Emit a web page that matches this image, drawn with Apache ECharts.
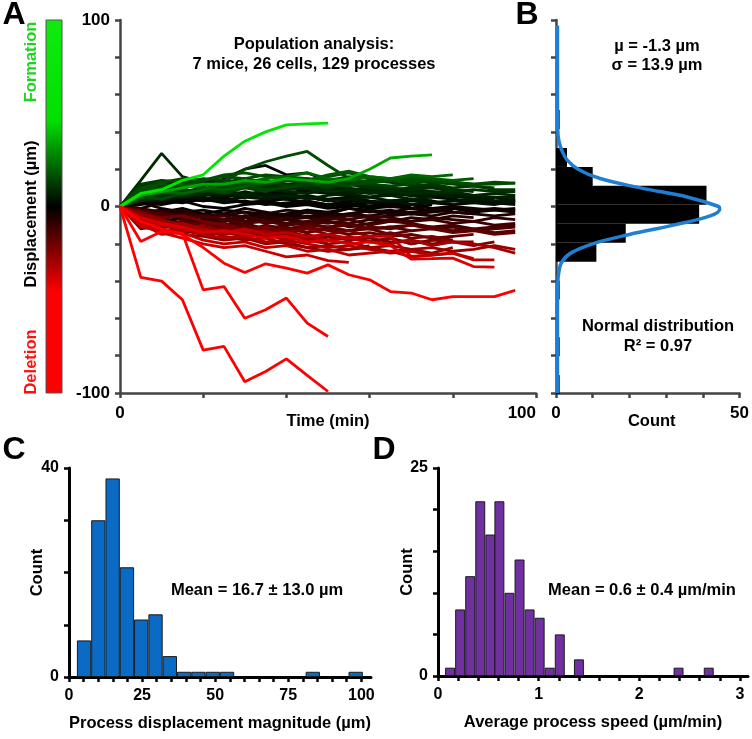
<!DOCTYPE html>
<html><head><meta charset="utf-8">
<script src="https://cdn.jsdelivr.net/npm/echarts@6/dist/echarts.min.js"></script>
<style>html,body{margin:0;padding:0;background:#fff}#c{width:752px;height:739px}</style>
</head><body><div id="c"></div>
<script>
// ---------- Panel A: process displacement traces (µm), one value per 5-min frame ----------
const timePoints = [0,5,10,15,20,25,30,35,40,45,50,55,60,65,70,75,80,85,90,95];
const traces = [
  [0,7,9,14,17,27,35,40,43.8,44.3,44.7],
  [0,6,8,10,12,12,14,13,15,14,13,15,20,26,27,27.7],
  [0,8,10,12,11,13,20,24,27,29.5,22,15,13,14,15,14,13,12,13,12.5],
  [0,14,28.5,16,13,12,10,11,9,10,8,9,7,8,7,8,7],
  [0,10,13,15,14,16,15,17,16,15,14,16,15,14,13,14,13,12,12,12.5],
  [0,5,9,11,12,10,13,12,14,15,13,12,14,13,11,12,10,11,9,9],
  [0,12,14,13,15,14,12,13,11,12,14,13,12,15,14,13,12,11,10],
  [0,6,7,9,8,10,11,9,10,12,11,13,12,11,12,14,13,11],
  [0,9,12,11,14,17,18,16,15,14,16,18,15,14,13],
  [0,4,6,5,7,8,6,9,8,7,9,10,8,9,8,7,8,6,7,6],
  [0,8,11,10,12,11,13,14,12,13,11,12,10,9,10,11,9,8],
  [0,3,5,7,6,8,7,5,6,4,6,7,5,6,4,5],
  [0,6,10,12,10,9,11,13,15,14,17,19,16,15,16,15,14,15],
  [0,11,13,12,14,13,15,13,12,10,11,9,10,8,9,8,7,6,5,5],
  [0,2,4,6,5,3,5,6,4,5,3,4,2,3,4,3],
  [0,5,4,7,9,11,10,12,14,13,12,11,13,14,12],
  [0,7,9,8,6,7,5,4,6,5,3,4,5,3,4,2,3,4,3,4],
  [0,4,7,9,8,10,12,11,9,10,8,7,9,8,6,7,5],
  [0,10,12,14,12,11,13,11,10,9,10,8,7,8,6,7,5,6,4],
  [0,3,6,8,10,9,11,10,12,11,10,12,11,10,9,10,8,9,8,8],
  [0,6,8,7,9,12,13,15,16,18,15,14,16,15,17,16,17],
  [0,2,3,5,4,6,5,7,6,8,7,6,5,7,6,5,6,4,5,3],
  [0,4,8,6,9,7,10,8,11],
  [0,6,4,7,9,8,12],
  [0,1,3,2,4,6,5,8,7,9,10,8,9,7,6,5,4,3,2,1],
  [0,-2,-3,-1,-4,-2,-3,-5,-4,-2,-3,-1,-2,-4,-3,-2,-1,-3,-2,-1],
  [0,4,5,6,8,15,20,22,17,18,14,12,10,8,9,6,7,5,3,2],
  [0,-5,-8,-6,-9,-7,-5,-4,-6,-3,-5,-4,-2,-3,-1,-2,0,-1,-2,-3],
  [0,2,1,3,0,-1,1,2,0,1,-1,0,2,1,0],
  [0,-3,-2,-4,-6,-5,-3,-4,-2,-3,-5,-4,-6,-5,-4,-5,-3,-4],
  [0,6,8,5,3,4,2,3,1,2,0,1,-1,0,-1,1],
  [0,-1,2,4,3,5,2,3,4,2,1,3,2,0,1,-1,0,-2,-1,-2],
  [0,3,4,7,9,8,6,7,5,6,4,5,3,2,4,3,1,2],
  [0,-4,-6,-9,-7,-10,-8,-6,-7,-5,-6,-4,-5,-3,-4,-2,-3,-4,-5,-4],
  [0,5,3,6,4,2,3,1,2,3,1,2,0,1,3,2,1],
  [0,-2,-5,-3,-6,-8,-5,-7,-4,-6,-3,-5,-2,-4,-3],
  [0,8,6,9,7,5,8,6,4,5,3,4,2,3,1,2,3,2,1,3],
  [0,-6,-4,-7,-5,-8,-6,-3,-5,-2,-4,-1,-3,-2,-4,-3,-2],
  [0,2,-1,-3,-2,-4,-1,-3],
  [0,-3,-6,-4,-8,-10,-7],
  [0,-8,-10,-9,-12,-11,-13,-10,-12,-14,-11,-13,-12,-15,-13,-12,-14,-13,-15,-14],
  [0,-5,-7,-10,-8,-11,-9,-12,-10,-8,-9,-7,-10,-8,-9,-11,-10,-12,-11,-10],
  [0,-3,-6,-5,-8,-10,-13,-11,-14,-12,-15,-13,-16,-14,-17,-16,-18],
  [0,-10,-12,-14,-11,-13,-16,-14,-17,-15,-18,-16,-19,-17,-20,-18,-19,-19],
  [0,-6,-4,-7,-9,-8,-6,-9,-7,-10,-8,-11,-9,-7,-8,-6,-7,-8,-6,-7],
  [0,-4,-8,-12,-10,-9,-12,-14,-13,-11,-13,-15,-14,-16,-15,-17,-16,-15],
  [0,-12,-10,-13,-15,-14,-12,-15,-13,-16,-18,-17,-19,-17,-20,-18,-16],
  [0,-3,-5,-4,-6,-5,-8,-7,-9,-8,-6,-7,-5,-6,-8,-7,-9,-8,-10,-9],
  [0,-7,-9,-8,-10,-12,-11,-13,-12,-10,-11,-9,-12,-11,-13],
  [0,-2,-4,-6,-5,-7,-9,-8,-10,-9,-11,-10,-12,-11,-10,-12,-11,-13,-12,-11],
  [0,-9,-11,-10,-13,-12,-14,-16,-15,-17,-16,-18,-17,-19,-18,-20,-19,-21,-19],
  [0,-5,-3,-6,-8,-7,-5,-8,-6,-9,-7,-5,-6,-8],
  [0,-1,-3,-2,-5,-4,-6,-5,-7,-6,-8,-9,-7,-8,-6,-7,-5,-6],
  [0,-6,-9,-11,-9,-12,-10,-13,-11,-14,-12,-13,-11,-12,-10,-11,-13,-12,-14,-13],
  [0,-5,-9,-12,-10,-14,-16,-15,-18,-17,-20],
  [0,-8,-10,-12,-13,-14,-12,-15,-14,-16,-15,-17,-16,-16,-26.8,-26,-25,-28.6,-28.6],
  [0,-6,-9,-11,-14,-13,-15,-17,-16,-19,-18,-20,-19,-21,-28.2,-28,-27.7,-32.2,-32.5],
  [0,-7,-10,-9,-12,-14,-13,-15,-17,-16,-18,-17,-19,-20,-18,-21,-19,-20,-22,-25],
  [0,-10,-14,-17,-20,-22,-21,-24,-27,-26,-29,-30],
  [0,-9,-15,-14,-18,-20,-19,-22,-21,-24,-23,-26,-25,-24,-27,-26,-25,-28],
  [0,-4,-7,-10,-12,-16,-18,-17,-20,-22,-21,-23,-22,-24,-23,-25,-22],
  [0,-11,-13,-12,-15,-17,-16,-19,-18,-20,-22,-21,-23,-25,-24,-26],
  [0,-6,-8,-13,-12,-15,-14,-13,-16,-18,-20,-19,-22,-21,-23,-22,-24,-23,-21,-23],
  [0,-5,-12,-15,-16,-18,-17,-20,-19,-22,-24,-23,-21],
  [0,-8,-12,-15,-22,-30.4,-35.4,-30.7,-33,-35.7,-31.3,-36.6,-39.3,-45.6,-46.4,-50,-48.3,-48.3,-48.3,-45],
  [0,-18.8,-13.4,-14.3,-44.7,-42.9,-59.9,-55.4,-49.1,-62.5,-69.7],
  [0,-38,-40,-50,-77,-75,-94,-88.5,-81.7,-90.5,-99.2]
];

// ---------- Panel B: histogram of final displacement (µm) + normal fit ----------
const histBCenters = [-95.5, -75.2, -44.8, -24.5, -14.3, -4.2, 6.0, 16.1, 26.3, 46.6];
const histBCounts  = [1, 1, 1, 11, 19, 39, 41, 10, 3, 1];
const binWidthB = 10.15;
const fitDisp  = [-100, -60, -45, -40, -35, -30, -25, -20, -15, -10, -5, -1.3, 0, 5, 10, 15, 20, 25, 30, 35, 40, 60, 97];
const fitCount = [0.4, 0.4, 0.4, 0.5, 0.8, 1.5, 4, 10, 20, 32, 42, 44.6, 44.3, 36, 23, 12, 6, 3, 1.6, 0.8, 0.5, 0.4, 0.4];

// ---------- Panel C: process displacement magnitude histogram ----------
const histCCenters = [5.15, 10.04, 14.93, 19.82, 24.71, 29.6, 34.49, 39.38, 44.27, 49.16, 54.05, 58.94, 63.83, 68.72, 73.61, 78.5, 83.39, 88.28, 93.17, 98.06];
const histCCounts  = [7, 30, 38, 21, 11, 12, 4, 1, 1, 1, 1, 0, 0, 0, 0, 0, 1, 0, 0, 1];

// ---------- Panel D: average process speed histogram ----------
const histDCenters = [0.12,0.22,0.32,0.42,0.52,0.61,0.71,0.81,0.91,1.01,1.11,1.21,1.31,1.40,1.50,1.60,1.70,1.80,1.90,2.00,2.10,2.19,2.29,2.39,2.49,2.59,2.69];
const histDCounts  = [1,8,12,21,17,21,10,14,8,7,1,5,0,2,0,0,0,0,0,0,0,0,0,1,0,0,1];

// ---------- tick values ----------
const ticksCX = [0,5,10,15,20,25,30,35,40,45,50,55,60,65,70,75,80,85,90,95,100];
const labelsCX = [0,25,50,75,100];
const ticksDX = [0,0.2,0.4,0.6,0.8,1,1.2,1.4,1.6,1.8,2,2.2,2.4,2.6,2.8,3];
const labelsDX = [0,1,2,3];

const FONT = '"Liberation Sans", Arial, Helvetica, sans-serif';
const SAT = 38;
function dispColor(v) {
  const i = Math.min(1, Math.abs(v) / SAT);
  return v >= 0 ? 'rgb(0,' + Math.round(230 * i) + ',0)' : 'rgb(' + Math.round(255 * i) + ',0,0)';
}

const chart = echarts.init(document.getElementById('c'), null, {renderer: 'canvas'});

const order = traces.map((t, i) => i).sort((a, b) => Math.abs(traces[a][traces[a].length - 1]) - Math.abs(traces[b][traces[b].length - 1]));
const lineSeries = order.map(idx => {
  const tr = traces[idx];
  return {
    type: 'line', xAxisIndex: 0, yAxisIndex: 0, symbol: 'none', silent: true,
    data: tr.map((v, i) => [timePoints[i], v]),
    lineStyle: {color: dispColor(tr[tr.length - 1]), width: 2.8},
    z: 2
  };
});

const gray = '#444';
const tickFontAB = {color: '#000', fontFamily: FONT, fontWeight: 'bold', fontSize: 17};
const tickFontCD = {color: '#000', fontFamily: FONT, fontWeight: 'bold', fontSize: 16};
const nameFont = {color: '#000', fontFamily: FONT, fontWeight: 'bold', fontSize: 16.5};

function txt(text, x, y, opts) {
  opts = opts || {};
  return {
    type: 'text', x: x, y: y, rotation: opts.rot || 0, silent: true, z: 100,
    style: {text: text, align: 'center', verticalAlign: 'middle', fill: opts.color || '#000',
      font: 'bold ' + (opts.size || 16.5) + 'px ' + FONT}
  };
}

const option = {
  animation: false,
  backgroundColor: '#fff',
  grid: [
    {left: 120, top: 20, width: 416, height: 373},
    {left: 556, top: 20, width: 187, height: 373},
    {left: 69, top: 468, width: 302, height: 209},
    {left: 438, top: 468, width: 310, height: 208}
  ],
  xAxis: [
    {gridIndex: 0, type: 'value', min: 0, max: 100, interval: 20,
      axisLine: {onZero: false, lineStyle: {color: gray, width: 2.5}},
      axisTick: {length: 5, lineStyle: {color: gray, width: 2.5}},
      axisLabel: Object.assign({margin: 12, alignMaxLabel: 'right', formatter: v => (v === 0 || v === 100) ? String(v) : ''}, tickFontAB),
      splitLine: {show: false},
      name: 'Time (min)', nameLocation: 'middle', nameGap: 20, nameMoveOverlap: false, nameTextStyle: nameFont},
    {gridIndex: 1, type: 'value', min: 0, max: 50, interval: 10,
      axisLine: {onZero: false, lineStyle: {color: gray, width: 2.5}},
      axisTick: {length: 5, lineStyle: {color: gray, width: 2.5}},
      axisLabel: Object.assign({margin: 12, formatter: v => (v === 0 || v === 50) ? String(v) : ''}, tickFontAB),
      splitLine: {show: false},
      name: 'Count', nameLocation: 'middle', nameGap: 20, nameMoveOverlap: false, nameTextStyle: Object.assign({padding: [0, 0, 0, 8]}, nameFont)},
    {gridIndex: 2, type: 'value', min: 0, max: 103.3,
      axisLine: {onZero: false, lineStyle: {color: '#000', width: 3}},
      axisTick: {length: 5, customValues: ticksCX, lineStyle: {color: '#000', width: 2.5}},
      axisLabel: Object.assign({margin: 11, customValues: labelsCX}, tickFontCD),
      splitLine: {show: false},
      name: 'Process displacement magnitude (µm)', nameLocation: 'middle', nameGap: 38, nameMoveOverlap: false, nameTextStyle: nameFont},
    {gridIndex: 3, type: 'value', min: 0, max: 3.08,
      axisLine: {onZero: false, lineStyle: {color: '#000', width: 3}},
      axisTick: {length: 5, customValues: ticksDX, lineStyle: {color: '#000', width: 2.5}},
      axisLabel: Object.assign({margin: 11, customValues: labelsDX}, tickFontCD),
      splitLine: {show: false},
      name: 'Average process speed (µm/min)', nameLocation: 'middle', nameGap: 38, nameMoveOverlap: false, nameTextStyle: nameFont}
  ],
  yAxis: [
    {gridIndex: 0, type: 'value', min: -100, max: 100, interval: 20,
      axisLine: {show: true, onZero: false, lineStyle: {color: gray, width: 2.5}},
      axisTick: {show: true, length: 5, lineStyle: {color: gray, width: 2.5}},
      axisLabel: Object.assign({margin: 10, formatter: v => (v === -100 || v === 0 || v === 100) ? String(v) : ''}, tickFontAB),
      splitLine: {show: false}},
    {gridIndex: 1, type: 'value', min: -100, max: 100, interval: 20,
      axisLine: {show: true, onZero: false, lineStyle: {color: gray, width: 2.5}},
      axisTick: {show: true, length: 5, lineStyle: {color: gray, width: 2.5}},
      axisLabel: {show: false},
      splitLine: {show: false}},
    {gridIndex: 2, type: 'value', min: 0, max: 40, interval: 10,
      axisLine: {show: true, onZero: false, lineStyle: {color: '#000', width: 3}},
      axisTick: {show: true, length: 5, lineStyle: {color: '#000', width: 2.5}},
      axisLabel: Object.assign({margin: 10, formatter: v => (v === 0 || v === 40) ? String(v) : ''}, tickFontCD),
      splitLine: {show: false},
      name: 'Count', nameLocation: 'middle', nameGap: 23, nameRotate: 90, nameMoveOverlap: false, nameTextStyle: nameFont},
    {gridIndex: 3, type: 'value', min: 0, max: 25, interval: 5,
      axisLine: {show: true, onZero: false, lineStyle: {color: '#000', width: 3}},
      axisTick: {show: true, length: 5, lineStyle: {color: '#000', width: 2.5}},
      axisLabel: Object.assign({margin: 10, formatter: v => (v === 0 || v === 25) ? String(v) : ''}, tickFontCD),
      splitLine: {show: false},
      name: 'Count', nameLocation: 'middle', nameGap: 22, nameRotate: 90, nameMoveOverlap: false, nameTextStyle: nameFont}
  ],
  series: lineSeries.concat([
    {type: 'custom', xAxisIndex: 1, yAxisIndex: 1, silent: true, z: 2,
      data: histBCenters.map((c, i) => [c, histBCounts[i]]),
      encode: {x: 1, y: 0},
      renderItem: function (params, api) {
        const c = api.value(0), n = api.value(1);
        const p0 = api.coord([0, c - binWidthB / 2]);
        const p1 = api.coord([n, c + binWidthB / 2]);
        return {type: 'rect', shape: {x: p0[0], y: p1[1], width: p1[0] - p0[0], height: p0[1] - p1[1]},
          style: {fill: '#000'}};
      }},
    {type: 'line', xAxisIndex: 1, yAxisIndex: 1, symbol: 'none', silent: true, smooth: 0.4, z: 3,
      data: fitDisp.map((d, i) => [fitCount[i], d]),
      lineStyle: {color: '#1f7fd2', width: 3.5}},
    {type: 'bar', xAxisIndex: 2, yAxisIndex: 2, silent: true, barWidth: 14.3,
      data: histCCenters.map((c, i) => [c, histCCounts[i]]).filter(d => d[1] > 0),
      itemStyle: {color: '#0b6bc4', borderColor: '#1a1a1a', borderWidth: 1}},
    {type: 'bar', xAxisIndex: 3, yAxisIndex: 3, silent: true, barWidth: 9.95,
      data: histDCenters.map((c, i) => [c, histDCounts[i]]).filter(d => d[1] > 0),
      itemStyle: {color: '#7030a0', borderColor: '#1a1a1a', borderWidth: 1}}
  ]),
  graphic: [
    {type: 'rect', silent: true, z: 50,
      shape: {x: 46, y: 20, width: 16, height: 373},
      style: {stroke: '#555', lineWidth: 1,
        fill: new echarts.graphic.LinearGradient(0, 0, 0, 1, [
          {offset: 0, color: '#10ea10'},
          {offset: 0.27, color: '#00e000'},
          {offset: 0.5, color: '#000000'},
          {offset: 0.73, color: '#ff0000'},
          {offset: 1, color: '#ff0000'}
        ])}},
    txt('Formation', 31, 62, {rot: Math.PI / 2, color: '#1ed41e'}),
    txt('Displacement (µm)', 31, 214, {rot: Math.PI / 2}),
    txt('Deletion', 31, 362, {rot: Math.PI / 2, color: '#ff1010'}),
    txt('A', 14, 15, {size: 32}),
    txt('B', 527, 15, {size: 32}),
    txt('C', 14, 450, {size: 32}),
    txt('D', 384, 450, {size: 32}),
    txt('Population analysis:', 314, 44),
    txt('7 mice, 26 cells, 129 processes', 314, 64),
    txt('µ = -1.3 µm', 657, 46),
    txt('σ = 13.9 µm', 657, 65),
    txt('Normal distribution', 658, 326),
    txt('R² = 0.97', 658, 346),
    txt('Mean = 16.7 ± 13.0 µm', 257, 590),
    txt('Mean = 0.6 ± 0.4 µm/min', 642, 590)
  ]
};
chart.setOption(option);
</script>
</body></html>
